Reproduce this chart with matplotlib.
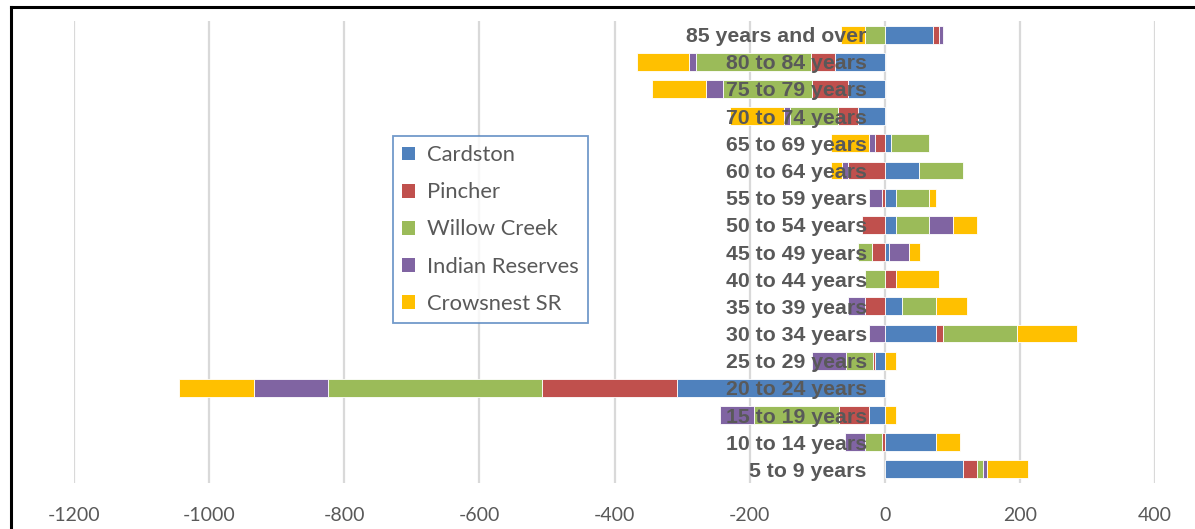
import matplotlib
matplotlib.use("Agg")
import matplotlib.pyplot as plt
import matplotlib.transforms as mtransforms
from matplotlib.lines import Line2D
from matplotlib.patches import Patch
import numpy as np

# Categories listed top to bottom as in the chart
categories = ['85 years and over', '80 to 84 years', '75 to 79 years', '70 to 74 years',
              '65 to 69 years', '60 to 64 years', '55 to 59 years', '50 to 54 years',
              '45 to 49 years', '40 to 44 years', '35 to 39 years', '30 to 34 years',
              '25 to 29 years', '20 to 24 years', '15 to 19 years', '10 to 14 years',
              '5 to 9 years']

cardston   = [71, -74, -55, -40, 9, 51, 16, 16, 6, 0, 26, 76, -14, -308, -24, 76, 116]
pincher    = [10, -35, -53, -29, -14, -54, -4, -34, -19, 16, -29, 10, -4, -200, -44, -4, 20]
willow     = [-29, -171, -131, -71, 57, 65, 50, 50, -20, -29, 50, 110, -40, -316, -126, -25, 10]
indian     = [5, -10, -25, -9, -10, -10, -20, 35, 30, 0, -26, -24, -50, -110, -50, -30, 5]
crowsnest  = [-36, -76, -80, -80, -55, -15, 10, 35, 16, 65, 46, 88, 16, -110, 16, 36, 61]

series_names = ['Cardston', 'Pincher', 'Willow Creek', 'Indian Reserves', 'Crowsnest SR']
series_values = [cardston, pincher, willow, indian, crowsnest]
colors = ['#4F81BD', '#C0504D', '#9BBB59', '#8064A2', '#FFC000']

xticks = [-1200, -1000, -800, -600, -400, -200, 0, 200, 400]

text_color = '#595959'

W, H = 1195, 529
fig = plt.figure(figsize=(W / 100, H / 100), dpi=100)
ax = fig.add_axes([74 / W, 1 - 483 / H, (1155 - 74) / W, (483 - 21) / H])

n = len(categories)
ypos = np.arange(n)[::-1]  # top category at top

pos_base = np.zeros(n)
neg_base = np.zeros(n)
for name, vals, col in zip(series_names, series_values, colors):
    v = np.array(vals, dtype=float)
    left = np.where(v >= 0, pos_base, neg_base)
    ax.barh(ypos, v, left=left, height=0.66, color=col, edgecolor='white',
            linewidth=0.6, label=name, zorder=2)
    pos_base = pos_base + np.where(v > 0, v, 0)
    neg_base = neg_base + np.where(v < 0, v, 0)

ax.set_xlim(-1200, 400)
ax.set_ylim(-0.5, n - 0.5)
ax.set_xticks(xticks)
ax.set_xticklabels([str(t) for t in xticks])
ax.set_yticks([])
for s in ax.spines.values():
    s.set_visible(False)
ax.tick_params(axis='x', length=0, pad=17, labelsize=14, labelcolor=text_color)
for lab in ax.get_xticklabels():
    lab.set_fontfamily('Lato')

for t in xticks:
    ax.axvline(t, color='#D9D9D9', linewidth=1.6, zorder=0)

# category labels placed just left of zero, over the bars
off = mtransforms.offset_copy(ax.transData, fig=fig, x=-13, y=0, units='points')
for y, lab in zip(ypos, categories):
    ax.text(0, y, lab, transform=off, ha='right', va='center_baseline',
            fontsize=15.3, fontweight='bold', color=text_color,
            family='Liberation Sans', zorder=5)

handles = [Patch(facecolor=c, edgecolor='none', label=nm) for nm, c in zip(series_names, colors)]
leg = fig.legend(handles=handles, loc='upper left',
                 bbox_to_anchor=(393 / W, 1 - 136 / H),
                 prop={'family': 'Lato', 'size': 15.8},
                 labelcolor=text_color, frameon=True, fancybox=False,
                 handlelength=0.6, handleheight=0.6, handletextpad=0.55,
                 labelspacing=0.78, borderpad=0.42, borderaxespad=0)
leg.get_frame().set_edgecolor('#4F81BD')
leg.get_frame().set_linewidth(1.3)

# outer chart frame (top and left edges visible)
fig.add_artist(Line2D([11 / W, 11 / W], [0, 1 - 7 / H], color='black', linewidth=2.2,
                      transform=fig.transFigure))
fig.add_artist(Line2D([11 / W, 1], [1 - 7 / H, 1 - 7 / H], color='black', linewidth=2.2,
                      transform=fig.transFigure))

fig.savefig('out.png', dpi=100)
